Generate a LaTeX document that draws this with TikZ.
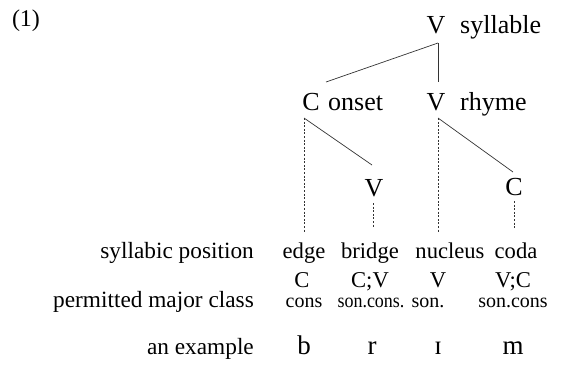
\documentclass[tikz,border=0pt]{standalone}
\usepackage{fontspec}
\setmainfont{Liberation Serif}
\begin{document}
\begin{tikzpicture}[x=1pt,y=-1pt,
  big/.style={font=\fontsize{26}{30}\selectfont, inner sep=0pt, anchor=base},
  lab/.style={font=\fontsize{23.3}{27}\selectfont, inner sep=0pt, anchor=base east},
  cell/.style={font=\fontsize{22.6}{26}\selectfont, inner sep=0pt, anchor=base},
  small/.style={font=\fontsize{20}{24}\selectfont, inner sep=0pt, anchor=base},
  ex/.style={font=\fontsize{27}{30}\selectfont, inner sep=0pt, anchor=base},
  solidline/.style={line width=0.7pt, draw=black!80},
  dashline/.style={line width=0.6pt, draw=black!80, dash pattern=on 2pt off 1.6pt}]
\useasboundingbox (0,0) rectangle (563,376);
\node[font=\fontsize{24}{28}\selectfont, inner sep=0pt, anchor=base] (num) at (26,26) {(1)};
% tree
\node[big] (Vs) at (436,33) {V};
\node[big,anchor=base west] (syl) at (460,33) {syllable};
\node[big] (Co) at (311,110) {C};
\node[big,anchor=base west] (ons) at (328,110) {onset};
\node[big] (Vr) at (436,110) {V};
\node[big,anchor=base west] (rhy) at (460,110) {rhyme};
\node[big] (Vb) at (374,196) {V};
\node[big] (Cc) at (514,195) {C};
\coordinate (t0) at (438,43);
\coordinate (l0) at (326,82);
\coordinate (v0) at (438,82);
\coordinate (c1) at (304,118);
\coordinate (e1) at (304,232);
\coordinate (s1) at (372,165);
\coordinate (r1) at (438,118);
\coordinate (n1) at (438,233);
\coordinate (s2) at (513,172);
\coordinate (b1) at (373,203);
\coordinate (b2) at (373,228);
\coordinate (d1) at (514,201);
\coordinate (d2) at (514,229);
\draw[solidline] (t0) -- (l0);
\draw[solidline] (t0) -- (v0);
\draw[solidline] (c1) -- (s1);
\draw[solidline] (r1) -- (s2);
\draw[dashline] (c1) -- (e1);
\draw[dashline] (r1) -- (n1);
\draw[dashline] (b1) -- (b2);
\draw[dashline] (d1) -- (d2);
% rows
\node[lab] (rpos) at (254,258) {syllabic position};
\node[cell] (edge) at (304,258) {edge};
\node[cell] (bridge) at (370,258) {bridge};
\node[cell] (nucleus) at (450,258) {nucleus};
\node[cell] (coda) at (516,258) {coda};
\node[cell] (k1) at (302,287) {C};
\node[cell] (k2) at (370,287) {C;V};
\node[cell] (k3) at (438,287) {V};
\node[cell] (k4) at (513,287) {V;C};
\node[lab] (rcls) at (254,307) {permitted major class};
\node[small] (m1) at (304,307) {cons};
\node[small,xscale=0.9] (m2) at (371,307) {son.cons.};
\node[small] (m3) at (428,307) {son.};
\node[small] (m4) at (513,307) {son.cons};
\node[lab] (rex) at (254,354) {an example};
\node[ex] (x1) at (304,354) {b};
\node[ex] (x2) at (372,354) {r};
\node[ex] (x3) at (438,354) {ɪ};
\node[ex] (x4) at (513,354) {m};
\end{tikzpicture}
\end{document}
